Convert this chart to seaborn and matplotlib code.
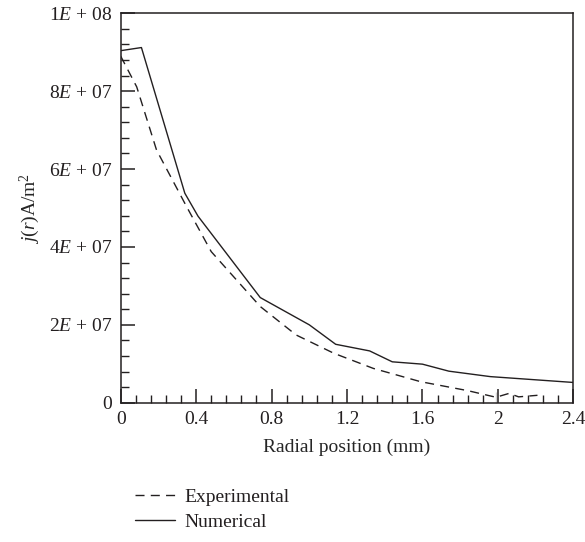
import numpy as np
import pandas as pd
import matplotlib
matplotlib.use("Agg")
import matplotlib.pyplot as plt
from matplotlib.ticker import MultipleLocator, FixedLocator
import seaborn as sns

# ===============================
# DATA
# ===============================
num_r = [0.0, 0.11, 0.23, 0.34, 0.41, 0.74, 1.0, 1.14, 1.32, 1.44, 1.6, 1.74, 1.96, 2.4]
num_j = [90.4e6, 91.2e6, 71.7e6, 53.8e6, 47.9e6, 27.0e6, 20.0e6, 15.0e6, 13.3e6,
         10.5e6, 9.9e6, 8.1e6, 6.7e6, 5.2e6]

exp_r = [0.0, 0.085, 0.19, 0.35, 0.48, 0.74, 0.93, 1.13, 1.34, 1.59, 1.84, 1.99,
         1.99, 2.06, 2.11, 2.21]
exp_j = [89.0e6, 81.1e6, 64.9e6, 50.3e6, 38.8e6, 24.7e6, 17.4e6, 12.7e6, 8.8e6,
         5.4e6, 3.1e6, 2.8e6, 0.0, 2.4e6, 1.5e6, 1.9e6]

y_ticks = [0, 2e7, 4e7, 6e7, 8e7, 1e8]
y_labels = ["0", "2$E$ + 07", "4$E$ + 07", "6$E$ + 07", "8$E$ + 07", "1$E$ + 08"]
x_ticks = [0, 0.4, 0.8, 1.2, 1.6, 2.0, 2.4]
x_labels = ["0", "0.4", "0.8", "1.2", "1.6", "2", "2.4"]

df_exp = pd.DataFrame({"r": exp_r, "j": exp_j, "series": "Experimental"})
df_num = pd.DataFrame({"r": num_r, "j": num_j, "series": "Numerical"})

# ===============================
# STYLE
# ===============================
sns.set_style("ticks")
plt.rcParams["font.family"] = ["Liberation Serif", "DejaVu Serif"]
plt.rcParams["mathtext.fontset"] = "custom"
plt.rcParams["mathtext.rm"] = "Liberation Serif"
plt.rcParams["mathtext.it"] = "Liberation Serif:italic"
plt.rcParams["text.color"] = "#231f20"
plt.rcParams["axes.edgecolor"] = "#231f20"

FS = 14

fig = plt.figure(figsize=(5.85, 5.42), dpi=100)
ax = fig.add_axes([0.2063, 0.257, 0.7737, 0.7185])

sns.lineplot(data=df_exp, x="r", y="j", sort=False, ax=ax, color="#231f20",
             linewidth=1.0, linestyle=(0, (6.5, 4.5)), label="Experimental")
sns.lineplot(data=df_num, x="r", y="j", sort=False, ax=ax, color="#231f20",
             linewidth=1.0, label="Numerical")

ax.set_xlim(0, 2.4)
ax.set_ylim(0, 1e8)
ax.xaxis.set_major_locator(FixedLocator(x_ticks))
ax.set_xticklabels(x_labels)
ax.yaxis.set_major_locator(FixedLocator(y_ticks))
ax.set_yticklabels(y_labels)
ax.xaxis.set_minor_locator(MultipleLocator(0.08))
ax.yaxis.set_minor_locator(MultipleLocator(4e6))
ax.tick_params(which="major", direction="in", length=10, width=1.1,
               labelsize=FS, pad=6, colors="#231f20")
ax.tick_params(which="minor", direction="in", length=6, width=1.0, colors="#231f20")
ax.tick_params(top=False, right=False, which="both")
for s in ax.spines.values():
    s.set_linewidth(1.1)

ax.set_xlabel("Radial position (mm)", fontsize=FS, labelpad=8)
ax.set_ylabel("$j$($r$)A/m$^2$", fontsize=FS, labelpad=5)

ax.get_legend().remove()
handles, labels = ax.get_legend_handles_labels()
fig.legend(handles, labels, loc="upper left", bbox_to_anchor=(0.217, 0.113),
           frameon=False, fontsize=FS, handlelength=2.05, handletextpad=0.5,
           labelspacing=0.35, borderaxespad=0)

fig.savefig("out.png", dpi=100)
